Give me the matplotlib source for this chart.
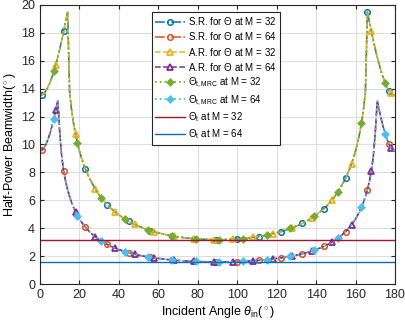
import matplotlib
matplotlib.use("Agg")
import matplotlib.pyplot as plt
import numpy as np

plt.rcParams["font.family"] = ["Liberation Sans", "DejaVu Sans"]
plt.rcParams["mathtext.fontset"] = "custom"
plt.rcParams["mathtext.rm"] = "Liberation Sans"
plt.rcParams["mathtext.it"] = "Liberation Sans:italic"

# incident angle samples (deg)
theta = [0, 1, 2, 3, 4, 5, 6, 7, 8, 9, 10, 11, 12, 13, 14, 15, 16, 17, 18, 19, 20, 21, 22,
         23, 25, 28, 29, 31, 32, 34, 36, 38, 41, 42, 43, 45, 47, 48, 52, 53, 55, 56, 58,
         62, 65, 67, 68, 69, 72, 77, 78, 79, 80, 82, 88, 89, 90,
         91, 92, 98, 100, 101, 102, 103, 108, 111, 112, 113, 115, 118, 122, 124, 125, 127,
         128, 132, 133, 135, 137, 138, 139, 142, 144, 146, 148, 149, 151, 152, 155, 157,
         158, 159, 160, 161, 162, 163, 164, 165, 166, 167, 168, 169, 170, 171, 172, 173,
         174, 175, 176, 177, 178, 179, 180]

# half-power beamwidth (deg), M = 32 (S.R., A.R. and MRC curves coincide)
hpbw_m32 = [13.52, 13.55, 13.67, 13.85, 14.10, 14.42, 14.80, 15.24, 15.73, 16.26, 16.84,
            17.46, 18.11, 18.80, 19.48, 13.77, 12.48, 11.52, 10.75, 10.10, 9.54, 9.06, 8.63,
            8.25, 7.59, 6.81, 6.59, 6.19, 6.01, 5.69, 5.41, 5.17, 4.85, 4.75, 4.66, 4.49,
            4.34, 4.27, 4.03, 3.98, 3.88, 3.83, 3.74, 3.60, 3.50, 3.45, 3.42, 3.40, 3.34,
            3.26, 3.25, 3.23, 3.22, 3.21, 3.18, 3.17, 3.17,
            3.17, 3.18, 3.21, 3.22, 3.23, 3.25, 3.26, 3.34, 3.40, 3.42, 3.45, 3.50, 3.60,
            3.74, 3.83, 3.88, 3.98, 4.03, 4.27, 4.34, 4.49, 4.66, 4.75, 4.85, 5.17, 5.41,
            5.69, 6.01, 6.19, 6.59, 6.81, 7.59, 8.25,
            8.63, 9.06, 9.54, 10.10, 10.75, 11.52, 12.48, 13.77, 19.48, 18.80, 18.11, 17.46,
            16.84, 16.26, 15.73, 15.24, 14.80, 14.42, 14.10, 13.85, 13.67, 13.55, 13.52]

# half-power beamwidth (deg), M = 64
hpbw_m64 = [9.54, 9.60, 9.75, 10.01, 10.35, 10.78, 11.28, 11.84, 12.46, 13.13, 10.86,
            9.13, 8.10, 7.34, 6.75, 6.26, 5.85, 5.49, 5.18, 4.91, 4.67, 4.45, 4.25,
            4.07, 3.76, 3.38, 3.28, 3.08, 2.99, 2.84, 2.70, 2.58, 2.42, 2.37, 2.33, 2.24,
            2.17, 2.13, 2.01, 1.99, 1.94, 1.91, 1.87, 1.80, 1.75, 1.72, 1.71, 1.70, 1.67,
            1.63, 1.62, 1.62, 1.61, 1.60, 1.59, 1.59, 1.59,
            1.59, 1.59, 1.60, 1.61, 1.62, 1.62, 1.63, 1.67, 1.70, 1.71, 1.72, 1.75, 1.80,
            1.87, 1.91, 1.94, 1.99, 2.01, 2.13, 2.17, 2.24, 2.33, 2.37, 2.42, 2.58, 2.70,
            2.84, 2.99, 3.08, 3.28, 3.38, 3.76, 4.07,
            4.25, 4.45, 4.67, 4.91, 5.18, 5.49, 5.85, 6.26, 6.75, 7.34, 8.10, 9.13, 10.86,
            13.13, 12.46, 11.84, 11.28, 10.78, 10.35, 10.01, 9.75, 9.60, 9.54]

# theoretical broadside beamwidth (deg)
theta_t_m32 = 3.17
theta_t_m64 = 1.59

th = np.array(theta)


def marks(start, step):
    want = np.arange(start, 181, step)
    return list(np.where(np.isin(th, want))[0])


fig = plt.figure(figsize=(4.05, 3.26), dpi=100)
ax = fig.add_axes([0.0988, 0.1288, 0.8765, 0.856])

lw = 1.1
ms = 4.0
ax.plot(th, hpbw_m32, "-.", color="#0072BD", lw=lw, marker="o", ms=ms, mfc="none",
        mew=1.1, markevery=marks(1, 11), label=r"S.R. for $\Theta$ at M = 32")
ax.plot(th, hpbw_m64, "-.", color="#D95319", lw=lw, marker="o", ms=ms, mfc="none",
        mew=1.1, markevery=marks(1, 11), label=r"S.R. for $\Theta$ at M = 64")
ax.plot(th, hpbw_m32, "--", color="#EDB120", lw=lw, marker="^", ms=ms + 0.5, mfc="none",
        mew=1.3, markevery=marks(8, 10), label=r"A.R. for $\Theta$ at M = 32")
ax.plot(th, hpbw_m64, "--", color="#7E2F8E", lw=lw, marker="^", ms=ms + 0.5, mfc="none",
        mew=1.3, markevery=marks(8, 10), label=r"A.R. for $\Theta$ at M = 64")
ax.plot(th, hpbw_m32, ":", color="#77AC30", lw=1.3, marker="D", ms=ms - 0.6,
        mew=1.1, markevery=marks(7, 12), label=r"$\Theta_{\rm t,MRC}$ at M = 32")
ax.plot(th, hpbw_m64, ":", color="#4DBEEE", lw=1.3, marker="D", ms=ms - 0.6,
        mew=1.1, markevery=marks(7, 12), label=r"$\Theta_{\rm t,MRC}$ at M = 64")
ax.axhline(theta_t_m32, color="#A2142F", lw=1.0, label=r"$\Theta_{\rm t}$ at M = 32")
ax.axhline(theta_t_m64, color="#0072BD", lw=1.0, label=r"$\Theta_{\rm t}$ at M = 64")

ax.set_xlim(0, 180)
ax.set_ylim(0, 20)
ax.set_xticks(np.arange(0, 181, 20))
ax.set_yticks(np.arange(0, 21, 2))
ax.tick_params(direction="in", top=True, right=True, labelsize=9, length=3,
               colors="#262626")
for sp in ax.spines.values():
    sp.set_color("#262626")
    sp.set_linewidth(0.8)
ax.grid(True, color="#dedede", lw=0.8)
ax.set_axisbelow(True)

ax.set_xlabel(r"Incident Angle $\theta_{\rm in}$($^\circ$)", fontsize=9, labelpad=2)
ax.set_ylabel(r"Half-Power Beamwidth($^\circ$)", fontsize=9, labelpad=2)

leg = ax.legend(loc="upper left", bbox_to_anchor=(0.315, 0.975), fontsize=7.0,
                frameon=True, fancybox=False, edgecolor="#262626", framealpha=1,
                borderpad=0.35, labelspacing=0.32, handlelength=3.1, handletextpad=0.25,
                borderaxespad=0)
leg.get_frame().set_linewidth(0.8)

fig.savefig("out.png", dpi=100)
